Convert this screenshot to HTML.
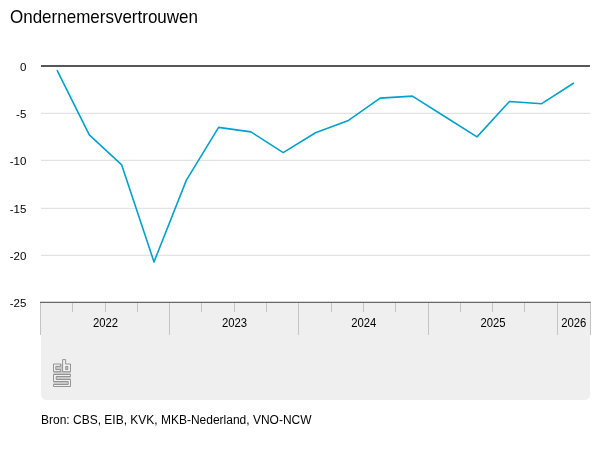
<!DOCTYPE html>
<html><head><meta charset="utf-8">
<style>
html,body{margin:0;padding:0;background:#fff;}
body{width:600px;height:450px;overflow:hidden;font-family:"Liberation Sans",sans-serif;}
svg{display:block;will-change:transform}
text{font-family:"Liberation Sans",sans-serif;fill:#000}
</style></head><body>
<svg width="600" height="450" viewBox="0 0 600 450">
<rect width="600" height="450" fill="#fff"/>
<text x="10" y="0" font-size="17" transform="translate(0,23) scale(1,1.08)">Ondernemersvertrouwen</text>
<path d="M41 302H590V394.500a5.500 5.500 0 0 1-5.500 5.500H46.500a5.500 5.500 0 0 1-5.500-5.500Z" fill="#efefef"/>

<g stroke="#dcdcdc" stroke-width="1">
<line x1="41" x2="590" y1="113.3" y2="113.3"/>
<line x1="41" x2="590" y1="160.3" y2="160.3"/>
<line x1="41" x2="590" y1="208.3" y2="208.3"/>
<line x1="41" x2="590" y1="255.3" y2="255.3"/>
</g>
<g stroke="#c4c4c4" stroke-width="1" shape-rendering="crispEdges">
<line x1="40.5" x2="40.5" y1="302" y2="334.5"/>
<line x1="72.5" x2="72.5" y1="302" y2="312"/>
<line x1="105.5" x2="105.5" y1="302" y2="312"/>
<line x1="137.5" x2="137.5" y1="302" y2="312"/>
<line x1="169.5" x2="169.5" y1="302" y2="334.5"/>
<line x1="201.5" x2="201.5" y1="302" y2="312"/>
<line x1="234.5" x2="234.5" y1="302" y2="312"/>
<line x1="266.5" x2="266.5" y1="302" y2="312"/>
<line x1="298.5" x2="298.5" y1="302" y2="334.5"/>
<line x1="331.5" x2="331.5" y1="302" y2="312"/>
<line x1="363.5" x2="363.5" y1="302" y2="312"/>
<line x1="395.5" x2="395.5" y1="302" y2="312"/>
<line x1="428.5" x2="428.5" y1="302" y2="334.5"/>
<line x1="460.5" x2="460.5" y1="302" y2="312"/>
<line x1="492.5" x2="492.5" y1="302" y2="312"/>
<line x1="524.5" x2="524.5" y1="302" y2="312"/>
<line x1="557.5" x2="557.5" y1="302" y2="334.5"/>
<line x1="590.5" x2="590.5" y1="302" y2="334.5"/>
</g>
<line x1="40" x2="590.6" y1="302.4" y2="302.4" stroke="#666" stroke-width="1.2"/>
<line x1="41" x2="590" y1="66" y2="66" stroke="#575757" stroke-width="2"/>
<g font-size="11.5" text-anchor="end">
<text x="26.3" y="70.7">0</text>
<text x="26.3" y="118.0">-5</text>
<text x="26.3" y="165.0">-10</text>
<text x="26.3" y="213.0">-15</text>
<text x="26.3" y="260.0">-20</text>
<text x="26.3" y="307.2">-25</text>
</g>
<g font-size="11.3" text-anchor="middle">
<text transform="translate(105.5,326.9) scale(1,1.07)">2022</text>
<text transform="translate(234.5,326.9) scale(1,1.07)">2023</text>
<text transform="translate(363.7,326.9) scale(1,1.07)">2024</text>
<text transform="translate(493,326.9) scale(1,1.07)">2025</text>
<text transform="translate(573.8,326.9) scale(1,1.07)">2026</text>
</g>
<polyline fill="none" stroke="#00a1cd" stroke-width="1.6" stroke-linejoin="round" stroke-linecap="butt" points="57.0,70.2 89.3,134.8 121.7,164.9 154.0,261.9 186.3,180.4 218.6,127.4 250.9,131.9 283.2,152.6 315.5,132.8 347.8,120.8 380.1,98.1 412.4,96.1 444.7,116.5 477.0,136.9 509.4,101.5 541.7,103.7 573.9,83.0"/>
<rect x="53.5" y="364" width="17" height="22.5" fill="#c8c8c8"/>
<g fill="#f1f1f1" stroke="#8a8a8a" stroke-width="0.9" stroke-linejoin="miter">
<path d="M53.5 364H60.5V366.4H55.8V369.6H60.5V371.7H53.5Z"/>
<path d="M62.6 359.6H65.6V364H70.5V371.7H62.6ZM65.7 366.5H67.8V369.5H65.7Z" fill-rule="evenodd"/>
<path d="M53.5 374.5H70.5V376.5H56.2V379.5H70.5V386.5H53.5V384.5H68.2V381.5H53.5Z"/>
</g>
<text transform="translate(41,423.9) scale(1,1.04)" font-size="12">Bron: CBS, EIB, KVK, MKB-Nederland, VNO-NCW</text>
</svg>
</body></html>
